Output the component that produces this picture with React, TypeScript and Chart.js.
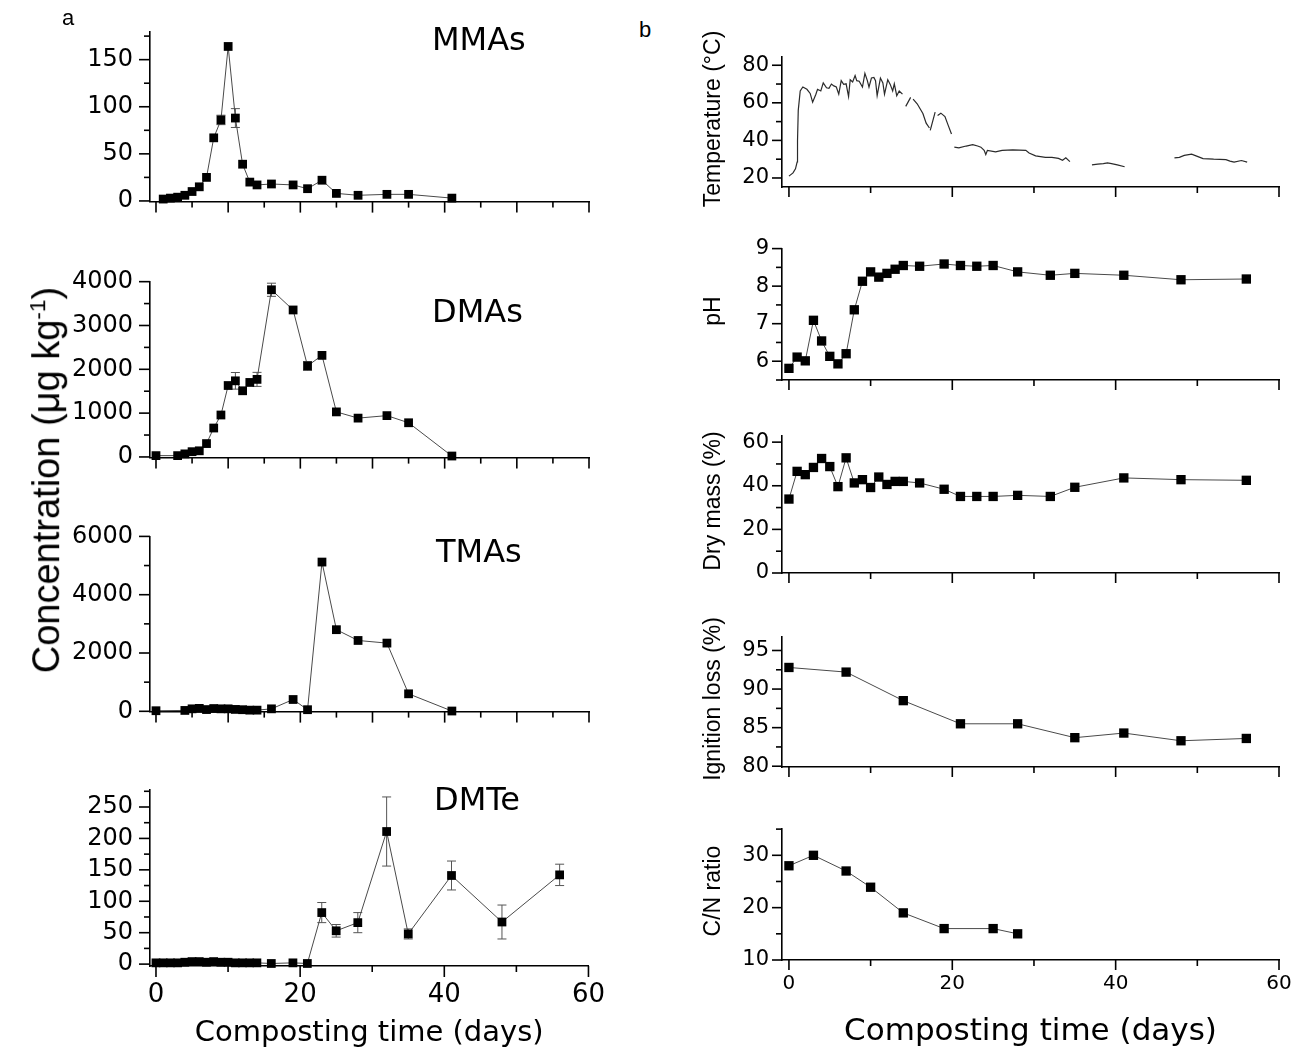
import React, { useEffect, useRef } from 'react';
import { Chart, registerables } from 'chart.js';

Chart.register(...registerables);

// ---------------- data ----------------
const xTickLabels = [0, 20, 40, 60];

const mmasDays = [1, 2, 3, 4, 5, 6, 7, 8, 9, 10, 11, 12, 13, 14, 16, 19, 21, 23, 25, 28, 32, 35, 41];
const mmasValues = [2, 3, 4, 6, 10, 15, 25, 67, 86, 164, 88, 39, 20, 17, 18, 17, 13, 22, 8, 6, 7, 7, 3];
const mmasErrors = [0, 0, 0, 0, 0, 0, 0, 0, 5, 0, 10, 0, 0, 0, 0, 0, 0, 0, 0, 0, 0, 0, 0];
const mmasTicks = [0, 50, 100, 150];

const dmasDays = [0, 3, 4, 5, 6, 7, 8, 9, 10, 11, 12, 13, 14, 16, 19, 21, 23, 25, 28, 32, 35, 41];
const dmasValues = [30, 30, 70, 120, 140, 305, 660, 957, 1630, 1737, 1510, 1700, 1770, 3815, 3354, 2077, 2318, 1028, 886, 943, 780, 21];
const dmasErrors = [0, 0, 0, 0, 0, 0, 0, 0, 0, 190, 0, 0, 160, 150, 0, 100, 0, 0, 0, 0, 0, 0];
const dmasTicks = [0, 1000, 2000, 3000, 4000];

const tmasDays = [0, 4, 5, 6, 7, 8, 9, 10, 11, 12, 13, 14, 16, 19, 21, 23, 25, 28, 32, 35, 41];
const tmasValues = [20, 30, 85, 100, 60, 95, 85, 85, 65, 55, 40, 40, 85, 405, 55, 5120, 2800, 2430, 2340, 600, 10];
const tmasTicks = [0, 2000, 4000, 6000];

const dmteDays = [0, 1, 2, 3, 4, 5, 6, 7, 8, 9, 10, 11, 12, 13, 14, 16, 19, 21, 23, 25, 28, 32, 35, 41, 48, 56];
const dmteValues = [2, 2, 2, 2, 3, 4, 4, 3, 4, 3, 3, 2, 2, 2, 2, 1, 2, 1, 82, 53, 66, 211, 48, 141, 67, 142];
const dmteErrors = [0, 0, 0, 0, 0, 0, 0, 0, 0, 0, 0, 0, 0, 0, 0, 0, 0, 0, 16, 10, 16, 55, 8, 23, 27, 17];
const dmteTicks = [0, 50, 100, 150, 200, 250];

const tempDays = [
  0, 0.5, 0.8, 1.0, 1.05, 1.14, 1.38, 1.7, 2.2, 2.6, 2.9, 3.3, 3.5, 3.9, 4.2, 4.6, 4.9, 5.2, 5.5, 5.8,
  6.1, 6.4, 6.7, 7.0, 7.3, 7.5, 7.8, 8.1, 8.3, 8.6, 9.0, 9.3, 9.6, 9.8, 10.1, 10.4, 10.6, 10.8, 11.2, 11.5,
  11.7, 12.1, 12.4, 12.7, 12.9, 13.2, 13.5, 13.9, 14.1,
  14.3, 14.9, 15.05,
  15.2, 15.7, 16.4, 16.8, 17.2, 17.25,
  17.3, 17.9, 18.05,
  18.2, 18.6, 19.1, 19.5, 19.9, 20.1,
  20.25, 20.8, 21.7, 22.5, 23.1, 23.5, 23.9, 24.1, 24.3, 25.3, 26.1, 27.4, 29.0, 29.4, 30.2, 31.4, 32.2, 33.0, 33.5, 33.9, 34.4, 35.8,
  37.1, 37.8, 38.5, 39.0, 39.5, 40.2, 41.1, 44.0,
  47.2, 47.8, 48.4, 49.3, 50.0, 50.7, 52.0, 53.5, 54.0, 54.5, 55.4, 56.1,
];
const tempValues = [
  21.0, 22.7, 24.9, 28.5, 40.0, 56.0, 66.3, 68.4, 67.2, 65.0, 60.3, 64.6, 67.2, 66.3, 70.6, 68.0, 67.7, 70.0, 69.0, 68.4,
  64.6, 71.8, 69.8, 70.1, 63.3, 72.3, 71.1, 74.5, 71.8, 71.5, 68.4, 75.7, 71.8, 68.4, 73.2, 73.5, 71.8, 63.8, 73.2, 70.6,
  64.6, 72.3, 69.8, 66.3, 70.1, 63.8, 66.3, 64.6, null,
  58.1, 62.9, null,
  62.0, 59.5, 54.3, 49.2, 46.6, null,
  45.3, 55.0, null,
  53.3, 54.5, 52.7, 48.0, 43.4, null,
  36.4, 36.0, 37.0, 37.7, 37.0, 36.4, 34.7, 32.5, 34.7, 33.9, 34.7, 35.0, 34.7, 33.3, 31.8, 31.0, 31.0, 30.4, 29.4, 30.7, 28.7, null,
  27.0, 27.4, 27.6, 28.0, 27.6, 27.0, 26.0, null,
  30.7, 31.0, 32.0, 32.7, 31.5, 30.3, 30.0, 29.8, 29.0, 28.4, 29.3, 28.4,
];
const tempTicks = [20, 40, 60, 80];

const phDays = [0, 1, 2, 3, 4, 5, 6, 7, 8, 9, 10, 11, 12, 13, 14, 16, 19, 21, 23, 25, 28, 32, 35, 41, 48, 56];
const phValues = [5.81, 6.11, 6.01, 7.09, 6.54, 6.13, 5.93, 6.2, 7.37, 8.13, 8.38, 8.24, 8.34, 8.45, 8.55, 8.53, 8.59, 8.55, 8.53, 8.55, 8.38, 8.29, 8.34, 8.29, 8.17, 8.19];
const phTicks = [6, 7, 8, 9];

const dryDays = [0, 1, 2, 3, 4, 5, 6, 7, 8, 9, 10, 11, 12, 13, 14, 16, 19, 21, 23, 25, 28, 32, 35, 41, 48, 56];
const dryValues = [33.9, 46.6, 45.1, 48.4, 52.5, 48.8, 39.6, 52.8, 41.3, 42.8, 39.2, 44.0, 40.6, 42.0, 42.0, 41.3, 38.4, 35.1, 35.1, 35.1, 35.6, 35.1, 39.3, 43.6, 42.8, 42.5];
const dryTicks = [0, 20, 40, 60];

const ignitionDays = [0, 7, 14, 21, 28, 35, 41, 48, 56];
const ignitionValues = [92.8, 92.2, 88.5, 85.5, 85.5, 83.7, 84.3, 83.3, 83.6];
const ignitionTicks = [80, 85, 90, 95];

const cnDays = [0, 3, 7, 10, 14, 19, 25, 28];
const cnValues = [28.0, 30.0, 27.0, 23.9, 19.0, 16.0, 16.0, 15.0];
const cnTicks = [10, 20, 30];

// ---------------- styling / layout ----------------
const ARIAL = "'Liberation Sans', Arial, sans-serif";
const DEJAVU = "'DejaVu Sans', sans-serif";
const XTITLE = 'Composting time (days)';

type PanelSpec = {
  id: string;
  canvasLeft: number;
  area: { l: number; t: number; r: number; b: number };
  padT: number; padR: number; padB: number;
  xRange: [number, number]; yRange: [number, number];
  xMajor: number; xMinor: number; yMajor: number; yMinor: number;
  majorLen: number; minorLen: number;
  xLabels: number[] | null; xLabelSize: number; xLabelPad: number;
  yLabels: number[]; yLabelSize: number; yLabelPad: number;
  xTitle?: { text: string; size: number; padBottom: number };
  days: number[]; values: (number | null)[]; errors?: number[];
  trace?: boolean; pointRadius: number;
  label?: { text: string; x: number; y: number; size: number };
};

const leftBase = {
  canvasLeft: 0, padR: 30, padT: 20, padB: 30,
  xRange: [-0.83, 60] as [number, number],
  majorLen: 11, minorLen: 6,
  xLabels: null, xLabelSize: 26, xLabelPad: 14,
  yLabelSize: 24, yLabelPad: 17, pointRadius: 6.2,
  xMajor: 10, xMinor: 5,
};
const rightBase = {
  canvasLeft: 690, padR: 30, padT: 20, padB: 30,
  xRange: [-0.85, 60] as [number, number],
  majorLen: 10, minorLen: 6,
  xLabels: null, xLabelSize: 20, xLabelPad: 12,
  yLabelSize: 21, yLabelPad: 13, pointRadius: 6.6,
  xMajor: 20, xMinor: 10,
};

const panels: PanelSpec[] = [
  { ...leftBase, id: 'mmas', padT: 15, area: { l: 150, t: 15, r: 589, b: 203 }, yRange: [-0.7, 180], yMajor: 50, yMinor: 25,
    yLabels: mmasTicks, days: mmasDays, values: mmasValues, errors: mmasErrors,
    label: { text: 'MMAs', x: 432, y: 50, size: 32 } },
  { ...leftBase, id: 'dmas', area: { l: 150, t: 270, r: 589, b: 459 }, yRange: [-15, 4006], yMajor: 1000, yMinor: 500,
    yLabels: dmasTicks, days: dmasDays, values: dmasValues, errors: dmasErrors,
    label: { text: 'DMAs', x: 432, y: 322, size: 32 } },
  { ...leftBase, id: 'tmas', area: { l: 150, t: 525, r: 589, b: 713 }, yRange: [-10, 6000], yMajor: 2000, yMinor: 1000,
    yLabels: tmasTicks, days: tmasDays, values: tmasValues,
    label: { text: 'TMAs', x: 436, y: 562, size: 32 } },
  { ...leftBase, id: 'dmte', padB: 86, area: { l: 150, t: 778, r: 589, b: 966 }, yRange: [-3, 278], yMajor: 50, yMinor: 25,
    xMajor: 20, xMinor: 10, xLabels: xTickLabels,
    xTitle: { text: XTITLE, size: 29, padBottom: 1 },
    yLabels: dmteTicks, days: dmteDays, values: dmteValues, errors: dmteErrors,
    label: { text: 'DMTe', x: 434, y: 810, size: 32 } },

  { ...rightBase, id: 'temp', area: { l: 782, t: 51, r: 1279, b: 187 }, yRange: [15.2, 84.6], yMajor: 20, yMinor: 10,
    yLabels: tempTicks, days: tempDays, values: tempValues, trace: true },
  { ...rightBase, id: 'ph', area: { l: 782, t: 243, r: 1279, b: 380 }, yRange: [5.5, 9.0], yMajor: 1, yMinor: 0.5,
    yLabels: phTicks, days: phDays, values: phValues },
  { ...rightBase, id: 'dry', area: { l: 782, t: 430, r: 1279, b: 573 }, yRange: [0, 63], yMajor: 20, yMinor: 10,
    yLabels: dryTicks, days: dryDays, values: dryValues },
  { ...rightBase, id: 'ign', area: { l: 782, t: 631, r: 1279, b: 767 }, yRange: [79.9, 96.8], yMajor: 5, yMinor: 2.5,
    yLabels: ignitionTicks, days: ignitionDays, values: ignitionValues },
  { ...rightBase, id: 'cn', padB: 92, area: { l: 782, t: 823, r: 1279, b: 960 }, yRange: [10, 35.1], yMajor: 10, yMinor: 5,
    xLabels: xTickLabels, xTitle: { text: XTITLE, size: 31, padBottom: 1.4 },
    yLabels: cnTicks, days: cnDays, values: cnValues },
];

const rightTitles = [
  { text: 'Temperature (°C)', y: 119 },
  { text: 'pH', y: 311 },
  { text: 'Dry mass (%)', y: 501 },
  { text: 'Ignition loss (%)', y: 699 },
  { text: 'C/N ratio', y: 891 },
];

function Panel({ spec }: { spec: PanelSpec }) {
  const ref = useRef<HTMLCanvasElement>(null);
  const top = spec.area.t - spec.padT;
  const width = spec.area.r - spec.canvasLeft + spec.padR;
  const height = spec.area.b - top + spec.padB;
  const padL = spec.area.l - spec.canvasLeft;

  useEffect(() => {
    const canvas = ref.current;
    if (!canvas) return;
    const s = spec;

    const axesPlugin = {
      id: 'originTicks',
      afterDraw(chart: any) {
        const { ctx, chartArea, scales } = chart;
        ctx.save();
        ctx.strokeStyle = '#000';
        ctx.lineWidth = 1.6;
        const drawTicks = (scale: any, major: number, minor: number, horizontal: boolean) => {
          const start = Math.ceil(scale.min / minor - 1e-9);
          const end = Math.floor(scale.max / minor + 1e-9);
          for (let i = start; i <= end; i++) {
            const v = i * minor;
            const isMajor = Math.abs(v / major - Math.round(v / major)) < 1e-6;
            const len = isMajor ? s.majorLen : s.minorLen;
            const p = scale.getPixelForValue(v);
            ctx.beginPath();
            if (horizontal) {
              ctx.moveTo(p, chartArea.bottom);
              ctx.lineTo(p, chartArea.bottom + len);
            } else {
              ctx.moveTo(chartArea.left, p);
              ctx.lineTo(chartArea.left - len, p);
            }
            ctx.stroke();
          }
        };
        drawTicks(scales.x, s.xMajor, s.xMinor, true);
        drawTicks(scales.y, s.yMajor, s.yMinor, false);
        if (s.label) {
          ctx.font = `${s.label.size}px ${DEJAVU}`;
          ctx.fillStyle = '#000';
          ctx.textBaseline = 'alphabetic';
          ctx.textAlign = 'left';
          ctx.fillText(s.label.text, s.label.x - s.canvasLeft, s.label.y - top);
        }
        ctx.restore();
      },
    };

    const errorPlugin = {
      id: 'errorBars',
      beforeDatasetsDraw(chart: any) {
        if (!s.errors) return;
        const { ctx } = chart;
        const meta = chart.getDatasetMeta(0);
        const yScale = chart.scales.y;
        ctx.save();
        ctx.strokeStyle = '#555';
        ctx.lineWidth = 1;
        s.errors.forEach((e, i) => {
          const v = s.values[i];
          if (!e || v === null) return;
          const pt = meta.data[i];
          const yt = yScale.getPixelForValue(v + e);
          const yb = yScale.getPixelForValue(v - e);
          ctx.beginPath();
          ctx.moveTo(pt.x, yt); ctx.lineTo(pt.x, yb);
          ctx.moveTo(pt.x - 4.5, yt); ctx.lineTo(pt.x + 4.5, yt);
          ctx.moveTo(pt.x - 4.5, yb); ctx.lineTo(pt.x + 4.5, yb);
          ctx.stroke();
        });
        ctx.restore();
      },
    };

    const chart = new Chart(canvas, {
      type: 'line',
      data: {
        datasets: [{
          data: s.days.map((d, i) => ({ x: d, y: s.values[i] })),
          borderColor: s.trace ? '#2a2a2a' : '#4a4a4a',
          borderWidth: s.trace ? 1.2 : 1,
          pointStyle: 'rect',
          pointRadius: s.trace ? 0 : s.pointRadius,
          pointHoverRadius: s.trace ? 0 : s.pointRadius,
          pointBackgroundColor: '#000',
          pointBorderColor: '#000',
          pointBorderWidth: 0,
          spanGaps: false,
          tension: 0,
          clip: false,
        } as any],
      },
      options: {
        animation: false,
        responsive: false,
        maintainAspectRatio: false,
        events: [],
        layout: { padding: { left: 0, top: s.padT, right: s.padR, bottom: 0 } },
        plugins: { legend: { display: false }, tooltip: { enabled: false } },
        scales: {
          x: {
            type: 'linear',
            min: s.xRange[0],
            max: s.xRange[1],
            grid: { display: false, drawTicks: false },
            border: { display: true, color: '#000', width: 1.6 },
            ticks: {
              display: !!s.xLabels,
              color: '#000',
              font: { family: DEJAVU, size: s.xLabelSize },
              padding: s.xLabelPad,
              autoSkip: false,
              maxRotation: 0,
              minRotation: 0,
              callback: (v: any) => String(v),
            },
            afterBuildTicks: (sc: any) => { sc.ticks = (s.xLabels || []).map((v) => ({ value: v })); },
            afterFit: (sc: any) => { sc.height = s.padB; },
            title: s.xTitle
              ? { display: true, text: s.xTitle.text, color: '#000', font: { family: DEJAVU, size: s.xTitle.size }, padding: { top: 0, bottom: s.xTitle.padBottom } }
              : { display: false },
          },
          y: {
            type: 'linear',
            min: s.yRange[0],
            max: s.yRange[1],
            grid: { display: false, drawTicks: false },
            border: { display: true, color: '#000', width: 1.6 },
            ticks: {
              color: '#000',
              font: { family: DEJAVU, size: s.yLabelSize },
              padding: s.yLabelPad,
              autoSkip: false,
              callback: (v: any) => String(v),
            },
            afterBuildTicks: (sc: any) => { sc.ticks = s.yLabels.map((v) => ({ value: v })); },
            afterFit: (sc: any) => { sc.width = padL; },
          },
        },
      } as any,
      plugins: [axesPlugin, errorPlugin],
    });
    return () => chart.destroy();
  }, [spec]);

  return (
    <canvas
      ref={ref}
      width={width}
      height={height}
      style={{ position: 'absolute', left: spec.canvasLeft, top, width, height }}
    />
  );
}

const centered = (x: number, y: number, rotate: boolean): React.CSSProperties => ({
  position: 'absolute',
  left: x,
  top: y,
  transform: `translate(-50%, -50%)${rotate ? ' rotate(-90deg)' : ''}`,
  whiteSpace: 'nowrap',
  lineHeight: 1,
  color: '#000',
});

export default function App() {
  return (
    <div style={{ position: 'absolute', left: 0, top: 0, width: 1291, height: 1052, overflow: 'hidden', background: '#fff' }}>
      {panels.map((p) => <Panel key={p.id} spec={p} />)}
      <div style={{ ...centered(68, 18, false), font: `22px ${ARIAL}` }}>a</div>
      <div style={{ ...centered(645, 30, false), font: `22px ${ARIAL}` }}>b</div>
      <div style={{ ...centered(46, 480, true), font: `38px ${ARIAL}` }}>
        Concentration (μg kg<sup style={{ fontSize: '60%' }}>-1</sup>)
      </div>
      {rightTitles.map((t) => (
        <div key={t.text} style={{ ...centered(712, t.y, true), font: `23px ${ARIAL}` }}>{t.text}</div>
      ))}
    </div>
  );
}
